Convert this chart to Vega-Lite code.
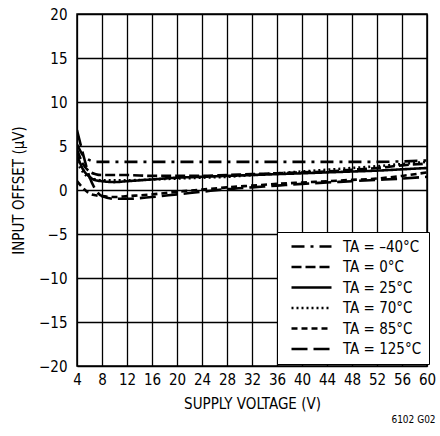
{
  "$schema": "https://vega.github.io/schema/vega-lite/v6.json",
  "autosize": {"type": "none"},
  "padding": {"left": 77, "top": 14, "right": 13, "bottom": 70},
  "width": 350,
  "height": 352,
  "background": "white",
  "title": {"text": "6102 G02", "orient": "bottom", "anchor": "end", "fontSize": 10, "font": "DejaVu Sans Condensed, Roboto, sans-serif", "fontWeight": "normal", "offset": 4, "color": "black"},
  "config": {
    "font": "DejaVu Sans Condensed, Roboto, sans-serif",
    "view": {"stroke": "black", "strokeWidth": 1.5},
    "axis": {"labelFont": "DejaVu Sans Condensed, Roboto, sans-serif", "titleFont": "DejaVu Sans Condensed, Roboto, sans-serif", "labelFontSize": 15, "titleFontSize": 15, "labelColor": "black", "titleColor": "black", "titleFontWeight": "normal", "grid": true, "gridColor": "black", "gridOpacity": 1, "gridWidth": 1.3, "ticks": false, "domain": false}
  },
  "data": {"values": [
    {"v":4,"t":"TA = –40°C","y":5.2},{"v":5,"t":"TA = –40°C","y":3.9},{"v":6,"t":"TA = –40°C","y":3.4},{"v":7,"t":"TA = –40°C","y":3.2},{"v":8,"t":"TA = –40°C","y":3.2},{"v":10,"t":"TA = –40°C","y":3.2},{"v":12,"t":"TA = –40°C","y":3.2},{"v":16,"t":"TA = –40°C","y":3.2},{"v":20,"t":"TA = –40°C","y":3.2},{"v":24,"t":"TA = –40°C","y":3.2},{"v":28,"t":"TA = –40°C","y":3.2},{"v":32,"t":"TA = –40°C","y":3.2},{"v":36,"t":"TA = –40°C","y":3.2},{"v":40,"t":"TA = –40°C","y":3.2},{"v":44,"t":"TA = –40°C","y":3.2},{"v":48,"t":"TA = –40°C","y":3.2},{"v":52,"t":"TA = –40°C","y":3.2},{"v":56,"t":"TA = –40°C","y":3.25},{"v":60,"t":"TA = –40°C","y":3.35},
    {"v":4,"t":"TA = 0°C","y":4.6},{"v":5,"t":"TA = 0°C","y":2.9},{"v":6,"t":"TA = 0°C","y":2.1},{"v":7,"t":"TA = 0°C","y":1.8},{"v":8,"t":"TA = 0°C","y":1.7},{"v":10,"t":"TA = 0°C","y":1.7},{"v":12,"t":"TA = 0°C","y":1.7},{"v":16,"t":"TA = 0°C","y":1.6},{"v":20,"t":"TA = 0°C","y":1.6},{"v":24,"t":"TA = 0°C","y":1.6},{"v":28,"t":"TA = 0°C","y":1.7},{"v":32,"t":"TA = 0°C","y":1.8},{"v":36,"t":"TA = 0°C","y":1.9},{"v":40,"t":"TA = 0°C","y":2.0},{"v":44,"t":"TA = 0°C","y":2.1},{"v":48,"t":"TA = 0°C","y":2.3},{"v":52,"t":"TA = 0°C","y":2.5},{"v":56,"t":"TA = 0°C","y":2.8},{"v":60,"t":"TA = 0°C","y":3.0},
    {"v":4,"t":"TA = 25°C","y":4.0},{"v":5,"t":"TA = 25°C","y":2.3},{"v":6,"t":"TA = 25°C","y":1.5},{"v":7,"t":"TA = 25°C","y":1.1},{"v":8,"t":"TA = 25°C","y":1.0},{"v":10,"t":"TA = 25°C","y":0.9},{"v":12,"t":"TA = 25°C","y":1.0},{"v":16,"t":"TA = 25°C","y":1.2},{"v":20,"t":"TA = 25°C","y":1.4},{"v":24,"t":"TA = 25°C","y":1.5},{"v":28,"t":"TA = 25°C","y":1.6},{"v":32,"t":"TA = 25°C","y":1.7},{"v":36,"t":"TA = 25°C","y":1.8},{"v":40,"t":"TA = 25°C","y":1.9},{"v":44,"t":"TA = 25°C","y":2.0},{"v":48,"t":"TA = 25°C","y":2.1},{"v":52,"t":"TA = 25°C","y":2.2},{"v":56,"t":"TA = 25°C","y":2.35},{"v":60,"t":"TA = 25°C","y":2.5},
    {"v":4,"t":"TA = 70°C","y":3.2},{"v":5,"t":"TA = 70°C","y":2.0},{"v":6,"t":"TA = 70°C","y":1.4},{"v":7,"t":"TA = 70°C","y":1.2},{"v":8,"t":"TA = 70°C","y":1.1},{"v":10,"t":"TA = 70°C","y":1.1},{"v":12,"t":"TA = 70°C","y":1.1},{"v":16,"t":"TA = 70°C","y":1.2},{"v":20,"t":"TA = 70°C","y":1.3},{"v":24,"t":"TA = 70°C","y":1.4},{"v":28,"t":"TA = 70°C","y":1.5},{"v":32,"t":"TA = 70°C","y":1.7},{"v":36,"t":"TA = 70°C","y":1.9},{"v":40,"t":"TA = 70°C","y":2.1},{"v":44,"t":"TA = 70°C","y":2.3},{"v":48,"t":"TA = 70°C","y":2.5},{"v":52,"t":"TA = 70°C","y":2.7},{"v":56,"t":"TA = 70°C","y":2.95},{"v":60,"t":"TA = 70°C","y":3.2},
    {"v":4,"t":"TA = 85°C","y":1.0},{"v":5,"t":"TA = 85°C","y":0.2},{"v":6,"t":"TA = 85°C","y":-0.4},{"v":7,"t":"TA = 85°C","y":-0.6},{"v":8,"t":"TA = 85°C","y":-0.7},{"v":10,"t":"TA = 85°C","y":-0.8},{"v":12,"t":"TA = 85°C","y":-0.7},{"v":16,"t":"TA = 85°C","y":-0.5},{"v":20,"t":"TA = 85°C","y":-0.2},{"v":24,"t":"TA = 85°C","y":0.05},{"v":28,"t":"TA = 85°C","y":0.3},{"v":32,"t":"TA = 85°C","y":0.5},{"v":36,"t":"TA = 85°C","y":0.7},{"v":40,"t":"TA = 85°C","y":0.85},{"v":44,"t":"TA = 85°C","y":1.0},{"v":48,"t":"TA = 85°C","y":1.15},{"v":52,"t":"TA = 85°C","y":1.3},{"v":56,"t":"TA = 85°C","y":1.6},{"v":60,"t":"TA = 85°C","y":2.0},
    {"v":4,"t":"TA = 125°C","y":6.8},{"v":5,"t":"TA = 125°C","y":4.0},{"v":6,"t":"TA = 125°C","y":1.5},{"v":7,"t":"TA = 125°C","y":0.0},{"v":8,"t":"TA = 125°C","y":-0.7},{"v":10,"t":"TA = 125°C","y":-1.0},{"v":12,"t":"TA = 125°C","y":-1.0},{"v":16,"t":"TA = 125°C","y":-0.8},{"v":20,"t":"TA = 125°C","y":-0.5},{"v":24,"t":"TA = 125°C","y":-0.2},{"v":28,"t":"TA = 125°C","y":0.1},{"v":32,"t":"TA = 125°C","y":0.3},{"v":36,"t":"TA = 125°C","y":0.5},{"v":40,"t":"TA = 125°C","y":0.7},{"v":44,"t":"TA = 125°C","y":0.85},{"v":48,"t":"TA = 125°C","y":1.0},{"v":52,"t":"TA = 125°C","y":1.15},{"v":56,"t":"TA = 125°C","y":1.3},{"v":60,"t":"TA = 125°C","y":1.5}
  ]},
  "mark": {"type": "line", "color": "black", "strokeWidth": 2.6, "interpolate": "monotone", "clip": true},
  "encoding": {
    "x": {"field": "v", "type": "quantitative", "title": "SUPPLY VOLTAGE (V)",
      "scale": {"domain": [4, 60], "nice": false, "zero": false},
      "axis": {"values": [4,8,12,16,20,24,28,32,36,40,44,48,52,56,60], "labelPadding": 6, "titlePadding": 9, "labelFlush": false}},
    "y": {"field": "y", "type": "quantitative", "title": "INPUT OFFSET (μV)",
      "scale": {"domain": [-20, 20], "nice": false},
      "axis": {"values": [-20,-15,-10,-5,0,5,10,15,20], "labelPadding": 10, "titlePadding": 12}},
    "strokeDash": {"field": "t", "type": "nominal",
      "scale": {"domain": ["TA = –40°C","TA = 0°C","TA = 25°C","TA = 70°C","TA = 85°C","TA = 125°C"],
        "range": [[13,6,3,6],[10,4],[1,0],[2,3],[6,4],[16,6]]},
      "legend": {"title": null, "orient": "none", "legendX": 200, "legendY": 218, "symbolType": "M0,0H8", "symbolSize": 100, "symbolStrokeWidth": 2.6, "symbolStrokeColor": "black", "labelFontSize": 15, "labelFont": "DejaVu Sans Condensed, Roboto, sans-serif", "labelColor": "black", "fillColor": "white", "strokeColor": "black", "padding": 7, "rowPadding": 4.5, "labelOffset": 44, "cornerRadius": 0}}
  }
}
